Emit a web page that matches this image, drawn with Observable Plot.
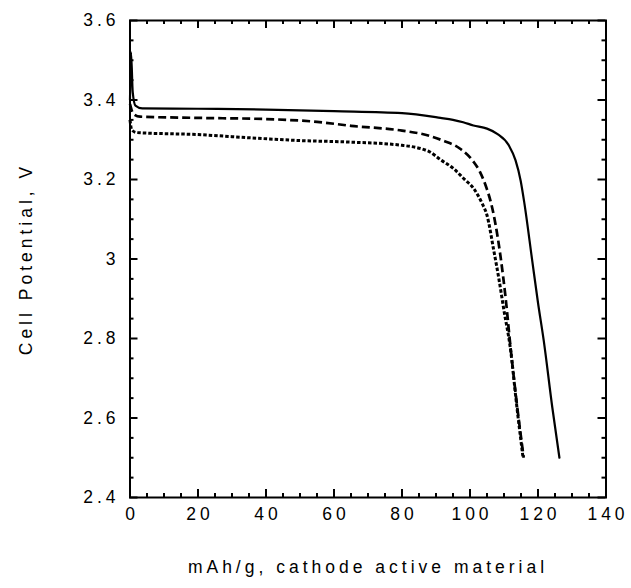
<!DOCTYPE html>
<html><head><meta charset="utf-8">
<script src="https://cdn.jsdelivr.net/npm/d3@7"></script>
<script src="https://cdn.jsdelivr.net/npm/@observablehq/plot@0.6"></script>
<style>
body{margin:0;background:#fff}
#chart svg text{letter-spacing:4px;font-size:17.5px;font-family:Arial,'Liberation Sans',sans-serif;fill:#000}
</style>
</head><body><div id="chart"></div>
<script>
// Series 1 (solid)
const solidX = [0, 0.3, 0.8, 1.6, 3.6, 20, 40, 60, 80, 91.3, 95, 98, 101, 105, 108, 111.4, 113.4, 114.9, 116, 118.3, 120, 121.7, 124.2, 126.3];
const solidY = [3.40, 3.52, 3.42, 3.386, 3.379, 3.378, 3.376, 3.372, 3.367, 3.355, 3.35, 3.344, 3.336, 3.328, 3.315, 3.286, 3.248, 3.197, 3.14, 2.996, 2.89, 2.794, 2.627, 2.5];
// Series 2 (dashed)
const dashX = [0, 1, 3, 20, 40, 55, 65, 80, 88, 92, 97, 101, 103, 105, 106, 107, 109, 110.5, 111.9, 113.9, 115.8];
const dashY = [3.39, 3.365, 3.358, 3.355, 3.352, 3.345, 3.335, 3.323, 3.31, 3.298, 3.278, 3.245, 3.218, 3.175, 3.147, 3.11, 3.005, 2.9, 2.78, 2.627, 2.5];
// Series 3 (dotted)
const dotX = [0, 0.5, 2, 20, 35, 50, 65, 80, 88, 91.3, 95.2, 98.2, 101.1, 103.6, 105, 107, 108.5, 110, 111.8, 113.8, 115.6];
const dotY = [3.35, 3.325, 3.318, 3.313, 3.305, 3.298, 3.294, 3.286, 3.27, 3.25, 3.227, 3.202, 3.177, 3.139, 3.11, 3.021, 2.95, 2.87, 2.78, 2.627, 2.5];

const xDomain = [0, 140];
const yDomain = [2.4, 3.6];
const xMajor = [0, 20, 40, 60, 80, 100, 120, 140];
const xMinor = [5, 10, 15, 25, 30, 35, 45, 50, 55, 65, 70, 75, 85, 90, 95, 105, 110, 115, 125, 130, 135];
const yMajor = [2.4, 2.6, 2.8, 3.0, 3.2, 3.4, 3.6];
const yMinor = [2.45, 2.5, 2.55, 2.65, 2.7, 2.75, 2.85, 2.9, 2.95, 3.05, 3.1, 3.15, 3.25, 3.3, 3.35, 3.45, 3.5, 3.55];
const yLabels = ["2.4", "2.6", "2.8", "3", "3.2", "3.4", "3.6"];

const toRows = (xs, ys) => xs.map((x, i) => ({x, y: ys[i]}));

// inward ticks on all four sides: zero-length rules at the frame edges, extended inward by negative insets
const tickMarks = [];
for (const [len, xs, ys] of [[8, xMajor, yMajor], [4, xMinor, yMinor]]) {
  const st = {stroke: "black", strokeWidth: 2};
  tickMarks.push(Plot.ruleX(xs, {x: d => d, y1: yDomain[0], y2: yDomain[0], insetTop: -len, ...st}));
  tickMarks.push(Plot.ruleX(xs, {x: d => d, y1: yDomain[1], y2: yDomain[1], insetBottom: -len, ...st}));
  tickMarks.push(Plot.ruleY(ys, {y: d => d, x1: xDomain[0], x2: xDomain[0], insetRight: -len, ...st}));
  tickMarks.push(Plot.ruleY(ys, {y: d => d, x1: xDomain[1], x2: xDomain[1], insetLeft: -len, ...st}));
}

const chart = Plot.plot({
  width: 631,
  height: 588,
  marginLeft: 129.5,
  marginRight: 25.5,
  marginTop: 20,
  marginBottom: 91,
  style: {fontFamily: "Arial, 'Liberation Sans', sans-serif", fontSize: "17.5px", color: "black", background: "white"},
  x: {domain: xDomain},
  y: {domain: yDomain},
  marks: [
    Plot.line(toRows(solidX, solidY), {x: "x", y: "y", stroke: "black", strokeWidth: 2.2, curve: "monotone-x"}),
    Plot.line(toRows(dashX, dashY), {x: "x", y: "y", stroke: "black", strokeWidth: 2.7, strokeDasharray: "8,4", strokeLinecap: "butt", curve: "monotone-x"}),
    Plot.line(toRows(dotX, dotY), {x: "x", y: "y", stroke: "black", strokeWidth: 3, strokeDasharray: "3.5,2", strokeLinecap: "butt", curve: "monotone-x"}),
    ...tickMarks,
    Plot.axisX(xMajor, {anchor: "bottom", tickSize: 0, tickPadding: 10, dx: 2, fontSize: 17.5, label: "mAh/g, cathode active material", labelAnchor: "center", labelArrow: "none", labelOffset: 75}),
    Plot.axisY(yMajor, {anchor: "left", tickSize: 0, tickPadding: 10.5, fontSize: 17.5, tickFormat: (d, i) => yLabels[i], label: "Cell Potential, V", labelAnchor: "center", labelArrow: "none", labelOffset: 110}),
    Plot.frame({stroke: "black", strokeWidth: 2})
  ]
});
document.getElementById("chart").append(chart);
</script>
</body></html>
